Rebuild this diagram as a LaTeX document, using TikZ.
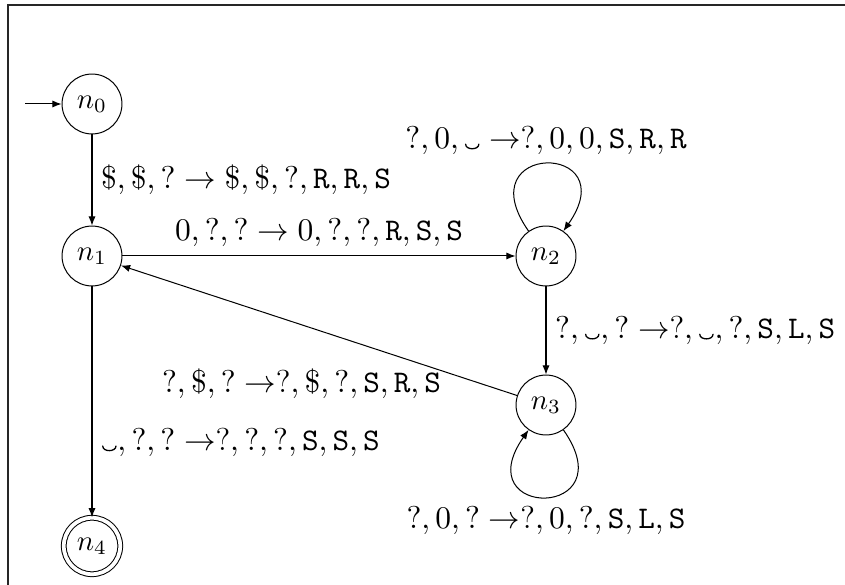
\documentclass[tikz,border=0pt]{standalone}
\usetikzlibrary{arrows.meta}
\newcommand{\blnk}{\mbox{\kern0.3pt\tikz[baseline=0pt]\draw[-,line width=0.45pt,line cap=round] (0pt,1.5pt) to[out=-90,in=180] (2.3pt,-0.1pt) to[out=0,in=-90] (4.6pt,1.5pt);\kern0.3pt}}
\newcommand{\mv}[1]{\mathtt{#1}}
\begin{document}
\begin{tikzpicture}[x=0.3472pt,y=0.3472pt,
  >={Latex[length=3.2pt,width=2.5pt]},
  statenode/.style={circle,draw,line width=0.35pt,minimum size=20.8pt,inner sep=0pt},
  accnode/.style={circle,draw,double,double distance=1.3pt,line width=0.35pt,minimum size=19.6pt,inner sep=0pt},
  conn/.style={->,line width=0.35pt},
  lbl/.style={inner sep=3pt,font=\fontsize{11}{13}\selectfont}]
\useasboundingbox (0,0) rectangle (845,-585);
\draw[line width=0.7pt,black!85] (845,-5) -- (8,-5) -- (8,-585);
\node[statenode] (n0) at (92,-104) {$n_0$};
\node[statenode] (n1) at (92,-256) {$n_1$};
\node[statenode] (n2) at (546,-256) {$n_2$};
\node[statenode] (n3) at (546,-405) {$n_3$};
\node[accnode] (n4) at (92,-546) {$n_4$};
\coordinate (start) at (25,-104);
\draw[conn] (start) -- (n0);
\draw[conn] (n0) -- (n1) node[lbl,midway,right] {$\$,\$,?\rightarrow\$,\$,?,\mv{R},\mv{R},\mv{S}$};
\draw[conn] (n1) -- (n2) node[lbl,midway,above] {$0,?,?\rightarrow0,?,?,\mv{R},\mv{S},\mv{S}$};
\draw[conn] (n2.125) .. controls +(125:38pt) and +(55:38pt) .. (n2.55)
  node[lbl,midway,above] {$?,0,\blnk\rightarrow$?$,0,0,\mv{S},\mv{R},\mv{R}$};
\draw[conn] (n2) -- (n3) node[lbl,midway,right] {$?,\blnk,?\rightarrow$?$,\blnk,?,\mv{S},\mv{L},\mv{S}$};
\draw[conn] (n3) -- (n1) node[lbl,pos=0.544,yshift=-20.5pt] {$?,\$,?\rightarrow$?$,\$,?,\mv{S},\mv{R},\mv{S}$};
\draw[conn] (n3.-55) .. controls +(-55:38pt) and +(-125:38pt) .. (n3.-125)
  node[lbl,midway,below] {$?,0,?\rightarrow$?$,0,?,\mv{S},\mv{L},\mv{S}$};
\draw[conn] (n1) -- (n4) node[lbl,pos=0.675,right] {$\blnk,?,?\rightarrow$?$,?,?,\mv{S},\mv{S},\mv{S}$};
\end{tikzpicture}
\end{document}
